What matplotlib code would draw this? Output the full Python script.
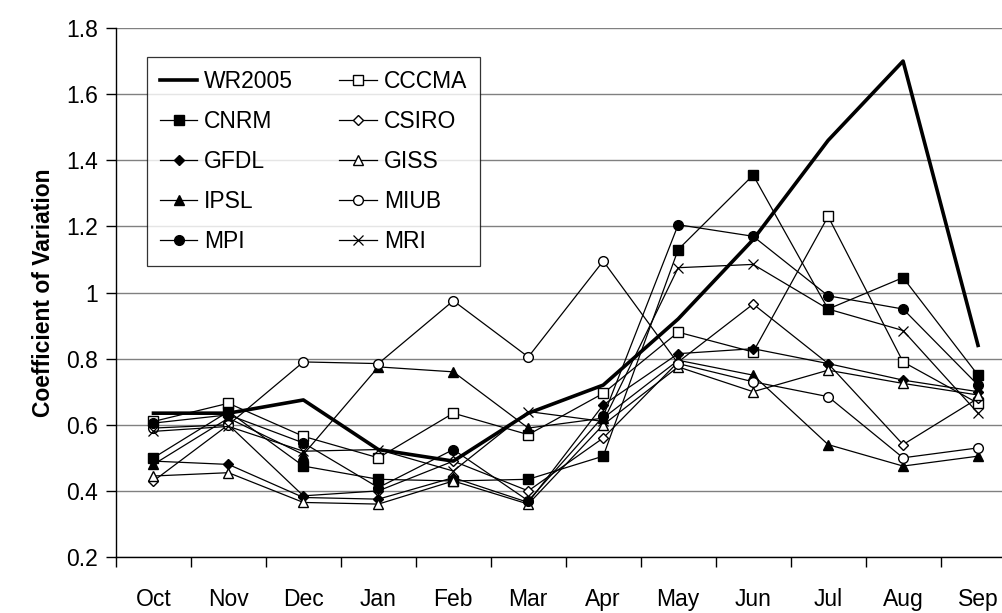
import matplotlib
matplotlib.use('Agg')
import matplotlib.pyplot as plt
import numpy as np

plt.rcParams['font.family'] = ['Liberation Sans', 'DejaVu Sans']

# 月份
months = ['Oct', 'Nov', 'Dec', 'Jan', 'Feb', 'Mar', 'Apr', 'May', 'Jun', 'Jul', 'Aug', 'Sep']

# 各模式的变异系数
wr2005 = [0.635, 0.635, 0.675, 0.525, 0.49, 0.635, 0.72, 0.92, 1.16, 1.46, 1.70, 0.84]
cccma = [0.61, 0.665, 0.565, 0.50, 0.635, 0.57, 0.695, 0.88, 0.82, 1.23, 0.79, 0.665]
cnrm = [0.50, 0.64, 0.475, 0.435, 0.43, 0.435, 0.505, 1.13, 1.355, 0.95, 1.045, 0.75]
csiro = [0.43, 0.60, 0.385, 0.40, 0.49, 0.40, 0.56, 0.79, 0.965, 0.785, 0.54, 0.68]
gfdl = [0.49, 0.48, 0.38, 0.375, 0.44, 0.365, 0.66, 0.815, 0.83, 0.785, 0.735, 0.70]
giss = [0.445, 0.455, 0.365, 0.36, 0.43, 0.36, 0.60, 0.775, 0.70, 0.765, 0.725, 0.69]
ipsl = [0.48, 0.62, 0.51, 0.775, 0.76, 0.59, 0.62, 0.795, 0.75, 0.54, 0.475, 0.505]
miub = [0.59, 0.60, 0.79, 0.785, 0.975, 0.805, 1.095, 0.785, 0.73, 0.685, 0.50, 0.53]
mpi = [0.605, 0.63, 0.545, 0.41, 0.525, 0.37, 0.625, 1.205, 1.17, 0.99, 0.95, 0.72]
mri = [0.58, 0.595, 0.52, 0.525, 0.46, 0.64, 0.61, 1.075, 1.085, 0.95, 0.885, 0.635]

x = np.arange(len(months))
FS = 16.5

fig = plt.figure(figsize=(10.03, 6.13), dpi=100)
ax = fig.add_axes([116 / 1003, 56 / 613, 899.5 / 1003, 529 / 613])

kw = dict(color='black', lw=0.9)
h_wr, = ax.plot(x, wr2005, color='black', lw=2.6, label='WR2005', zorder=4)
h_cc, = ax.plot(x, cccma, marker='s', mfc='white', mec='black', ms=7, label='CCCMA', **kw)
h_cn, = ax.plot(x, cnrm, marker='s', mfc='black', mec='black', ms=7, label='CNRM', **kw)
h_cs, = ax.plot(x, csiro, marker='D', mfc='white', mec='black', ms=5.5, label='CSIRO', **kw)
h_gf, = ax.plot(x, gfdl, marker='D', mfc='black', mec='black', ms=5.5, label='GFDL', **kw)
h_gi, = ax.plot(x, giss, marker='^', mfc='white', mec='black', ms=7, label='GISS', **kw)
h_ip, = ax.plot(x, ipsl, marker='^', mfc='black', mec='black', ms=7, label='IPSL', **kw)
h_mi, = ax.plot(x, miub, marker='o', mfc='white', mec='black', ms=7, label='MIUB', **kw)
h_mp, = ax.plot(x, mpi, marker='o', mfc='black', mec='black', ms=7, label='MPI', **kw)
h_mr, = ax.plot(x, mri, marker='x', mfc='none', mec='black', ms=7, mew=0.9, label='MRI', **kw)

ax.set_xlim(-0.5, 11.5)
ax.set_ylim(0.2, 1.8)
ax.set_yticks(np.arange(0.2, 1.81, 0.2))
ax.set_yticklabels(['0.2', '0.4', '0.6', '0.8', '1', '1.2', '1.4', '1.6', '1.8'], fontsize=FS)
ax.yaxis.grid(True, color='#808080', lw=1.0)
ax.set_axisbelow(True)

# x轴刻度在类别之间，标签在类别中心
ax.set_xticks(np.arange(-0.5, 12, 1))
ax.set_xticklabels([])
ax.set_xticks(x, minor=True)
ax.set_xticklabels(months, minor=True, fontsize=FS)
ax.tick_params(axis='x', which='minor', length=0, pad=22)
ax.tick_params(axis='x', which='major', length=7, width=1, direction='out')
ax.tick_params(axis='y', length=7, width=1, direction='out', pad=6)

for s in ['top', 'right']:
    ax.spines[s].set_visible(False)
ax.spines['left'].set_linewidth(1)
ax.spines['bottom'].set_linewidth(1)

ax.set_ylabel('Coefficient of Variation', fontsize=FS, fontweight='bold')
ax.yaxis.set_label_coords(-0.068, 0.5)

# 图例按行排列：左列与右列
handles = [h_wr, h_cn, h_gf, h_ip, h_mp, h_cc, h_cs, h_gi, h_mi, h_mr]
leg = ax.legend(handles=handles, ncol=2, loc='upper left',
                bbox_to_anchor=(31 / 899.5, 1 - 29 / 529),
                fontsize=FS, frameon=True, fancybox=False, edgecolor='black',
                handlelength=1.65, handletextpad=0.3, columnspacing=2.0,
                labelspacing=0.75, borderpad=0.55, borderaxespad=0)
leg.get_frame().set_linewidth(0.9)

plt.savefig('out.png', dpi=100)
